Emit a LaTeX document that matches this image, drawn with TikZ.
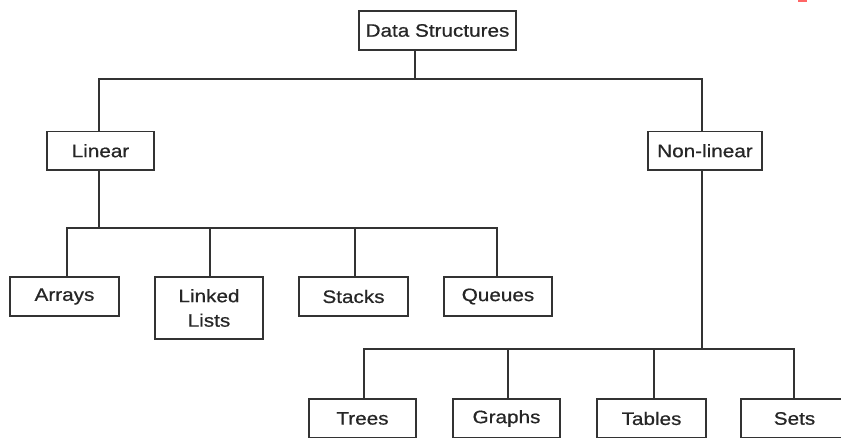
\documentclass[tikz,border=0pt]{standalone}
\usepackage{fontspec}
\setmainfont{Liberation Sans}[FakeStretch=1.15,FakeBold=0.6]
\begin{document}
\begin{tikzpicture}[x=1pt,y=-1pt,
  box/.style={draw=black!80, line width=1.3pt, rectangle, inner sep=0pt,
    text=black!85, font=\fontsize{18}{24.5}\selectfont, align=center},
  conn/.style={draw=black!80, line width=1.3pt}]
\useasboundingbox (0,0) rectangle (841,437);
\clip (0,0) rectangle (841,437);
\fill[white] (0,0) rectangle (841,437);
% nodes
\node[box, minimum width=157, minimum height=39] (ds) at (437.5,30.5) {Data Structures};
\node[box, minimum width=107, minimum height=38.5] (lin) at (100.5,150.75) {Linear};
\node[box, minimum width=114, minimum height=38.5] (nl) at (705,150.75) {Non-linear};
\node[box, minimum width=109, minimum height=39] (arr) at (64.5,296.5) {Arrays};
\node[box, minimum width=108, minimum height=62] (ll) at (209,308) {Linked\\Lists};
\node[box, minimum width=109, minimum height=39] (st) at (353.5,296.5) {Stacks};
\node[box, minimum width=108, minimum height=39] (qu) at (498,296.5) {Queues};
\node[box, minimum width=107, minimum height=39] (tr) at (362.5,418.5) {Trees};
\node[box, minimum width=107, minimum height=39] (gr) at (506.5,418.5) {Graphs};
\node[box, minimum width=109, minimum height=39] (ta) at (651.5,418.5) {Tables};
\node[box, minimum width=107, minimum height=39] (se) at (794.5,418.5) {Sets};
% junctions
\coordinate (j0) at (415,79);
\coordinate (j1) at (99,228);
\coordinate (j2) at (702,349);
% connectors
\draw[conn] (ds.south -| j0) -- (j0);
\draw[conn] (lin.north -| j1) |- (j0) -| (nl.north -| j2);
\draw[conn] (lin.south -| j1) -- (j1);
\draw[conn] (nl.south -| j2) -- (j2);
\draw[conn] (arr.north -| 67,0) |- (j1) -| (qu.north -| 497,0);
\draw[conn] (ll.north -| 210,0) -- (210,228);
\draw[conn] (st.north -| 355,0) -- (355,228);
\draw[conn] (tr.north -| 364,0) |- (j2) -| (se.north -| 794,0);
\draw[conn] (gr.north -| 508,0) -- (508,349);
\draw[conn] (ta.north -| 654,0) -- (654,349);
% small red mark at the top right
\fill[red!60] (798,0) rectangle (807,2);
\end{tikzpicture}
\end{document}
